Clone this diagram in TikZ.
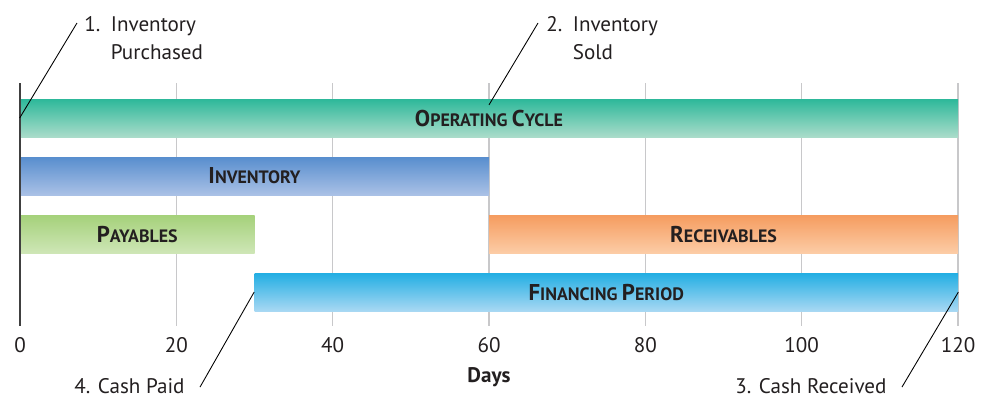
\documentclass[tikz,border=0pt]{standalone}
\usepackage{fontspec}
\setmainfont{PT Sans}
\usetikzlibrary{positioning,calc}

% Define colors
\definecolor{inkgray}{RGB}{35,31,32}
\definecolor{gridgray}{RGB}{200,200,202}
\definecolor{opertop}{RGB}{45,184,154}
\definecolor{operbot}{RGB}{170,220,202}
\definecolor{invtop}{RGB}{88,142,206}
\definecolor{invbot}{RGB}{170,193,230}
\definecolor{paytop}{RGB}{165,209,122}
\definecolor{paybot}{RGB}{206,230,182}
\definecolor{rectop}{RGB}{245,156,95}
\definecolor{recbot}{RGB}{252,204,166}
\definecolor{fintop}{RGB}{34,174,227}
\definecolor{finbot}{RGB}{168,216,243}

% fake small caps for the bar labels
\newcommand{\barcaps}[2]{{\fontsize{13}{14}\selectfont #1}{\fontsize{10.2}{12}\selectfont #2}}
\def\dayw{0.15634cm}

\begin{document}
\begin{tikzpicture}[
    x=\dayw, y={(0cm,-0.02cm)},
    every node/.style={text=inkgray, font=\fontsize{12}{16}\selectfont},
    bar/.style={inner sep=0pt, minimum height=0.76cm, font=\bfseries},
    gridline/.style={gridgray, line width=0.9pt},
    callout/.style={black, line width=0.5pt}
]
\useasboundingbox (-2.5585,0) rectangle (124.22,397);

% Grid lines (behind the bars)
\foreach \d in {20,40,...,120} {
    \draw[gridline] (\d,83) -- (\d,326);
}

% Bars
\node[bar, minimum width=120*\dayw, top color=opertop, bottom color=operbot] (opcycle) at (60,118) {\barcaps{O}{PERATING} \barcaps{C}{YCLE}};
\node[bar, minimum width=60*\dayw, top color=invtop, bottom color=invbot] (inventory) at (30,176) {\barcaps{I}{NVENTORY}};
\node[bar, minimum width=30*\dayw, top color=paytop, bottom color=paybot] (payables) at (15,234) {\barcaps{P}{AYABLES}};
\node[bar, minimum width=60*\dayw, top color=rectop, bottom color=recbot] (receivables) at (90,234) {\barcaps{R}{ECEIVABLES}};
\node[bar, minimum width=90*\dayw, top color=fintop, bottom color=finbot] (financing) at (75,292) {\barcaps{F}{INANCING} \barcaps{P}{ERIOD}};

% Zero axis
\draw[black!75, line width=0.6pt] (0,83) -- (0,326);

% Tick labels
\foreach \d in {0,20,...,120} {
    \node (tick\d) at (\d,345) {\d};
}
\node[font=\fontsize{12}{16}\selectfont\bfseries] (days) at (60,377) {Days};

% Event notes
\node[anchor=base west, inner sep=0pt] (note1) at (8.19,31) {\begin{tabular}[t]{@{}l@{\hspace{6pt}}l@{}}1. & Inventory\\ & Purchased\end{tabular}};
\node[anchor=base west, inner sep=0pt] (note2) at (67.29,31) {\begin{tabular}[t]{@{}l@{\hspace{6pt}}l@{}}2. & Inventory\\ & Sold\end{tabular}};
\node[anchor=base east, inner sep=0pt] (note3) at (110.9,393) {3. Cash Received};
\node[anchor=base east, inner sep=0pt] (note4) at (21.1,393) {4. Cash Paid};

% Callout lines
\coordinate (tip1) at (7.29,23);
\coordinate (tip2) at (66.27,23);
\coordinate (tip3) at (112.83,387);
\coordinate (tip4) at (23.03,387);
\draw[callout] (opcycle.west) -- (tip1);
\draw[callout] ($(opcycle.north)!0.16!(opcycle.south)$) -- (tip2);
\draw[callout] (financing.east) -- (tip3);
\draw[callout] (financing.west) -- (tip4);

\end{tikzpicture}
\end{document}
